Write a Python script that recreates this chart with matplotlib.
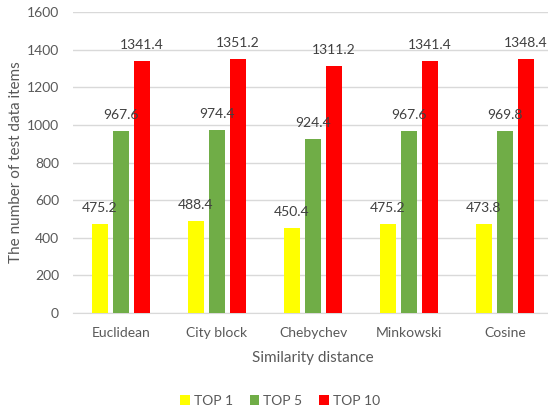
import matplotlib
matplotlib.use("Agg")
import matplotlib.pyplot as plt
import numpy as np

categories = ["Euclidean", "City block", "Chebychev", "Minkowski", "Cosine"]
top1 = [475.2, 488.4, 450.4, 475.2, 473.8]
top5 = [967.6, 974.4, 924.4, 967.6, 969.8]
top10 = [1341.4, 1351.2, 1311.2, 1341.4, 1348.4]
series_names = ["TOP 1", "TOP 5", "TOP 10"]
colors = ["#FFFF00", "#70AD47", "#FF0000"]

plt.rcParams["font.family"] = ["Lato", "DejaVu Sans"]
text_color = "#595959"

fig = plt.figure(figsize=(5.48, 4.09), dpi=100)
ax = fig.add_axes([73 / 548, 96 / 409, 480 / 548, 301 / 409])

x = np.arange(len(categories))
width = 0.167
step = 0.219
for k, (vals, name, c) in enumerate(zip([top1, top5, top10], series_names, colors)):
    pos = x + (k - 1) * step
    bars = ax.bar(pos, vals, width, color=c, label=name, zorder=3)
    for b, v in zip(bars, vals):
        ax.annotate(f"{v:.1f}", (b.get_x() + b.get_width() / 2, v),
                    xytext=(0, 11.5), textcoords="offset points",
                    ha="center", va="center", fontsize=10, color="#404040", zorder=4)

ax.set_xlim(-0.5, len(categories) - 0.5)
ax.set_ylim(0, 1600)
ax.set_yticks(np.arange(0, 1601, 200))
ax.set_xticks(x)
ax.set_xticklabels(categories)
ax.tick_params(axis="both", length=0, labelsize=10, colors=text_color)
ax.tick_params(axis="x", pad=10)
ax.tick_params(axis="y", pad=10)
ax.grid(axis="y", color="#D9D9D9", linewidth=1, zorder=0)
for s in ["top", "right", "left"]:
    ax.spines[s].set_visible(False)
ax.spines["bottom"].set_color("#D9D9D9")

ax.set_xlabel("Similarity distance", fontsize=11, color=text_color, labelpad=9)
ax.set_ylabel("The number of test data items", fontsize=11, color=text_color, labelpad=3)

leg = fig.legend(loc="center", bbox_to_anchor=(0.511, 0.02), ncol=3, frameon=False,
                 fontsize=10, handlelength=0.7, handleheight=0.7, handletextpad=0.3,
                 columnspacing=1.2)
for t in leg.get_texts():
    t.set_color(text_color)

fig.savefig("out.png", dpi=100)
